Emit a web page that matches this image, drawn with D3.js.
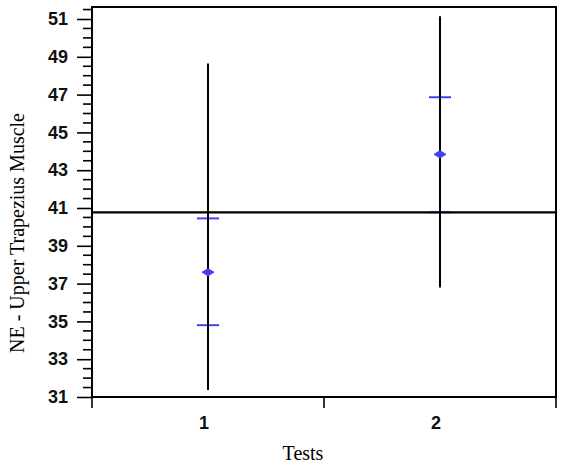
<!DOCTYPE html>
<html><head><meta charset="utf-8">
<script src="https://cdn.jsdelivr.net/npm/d3@7"></script>
<style>body{margin:0;background:#fff}</style>
</head><body>
<svg id="c" width="571" height="467"></svg>
<script>
const categories = ["1", "2"];
const means = [37.6, 43.84];
const ciUpper = [40.45, 46.86];
const ciLower = [34.8, 40.77];
const rangeMax = [48.65, 51.15];
const rangeMin = [31.37, 36.8];
const grandMean = 40.77;
const yTicks = [31, 33, 35, 37, 39, 41, 43, 45, 47, 49, 51];
const yTitle = "NE - Upper Trapezius Muscle";
const xTitle = "Tests";

const svg = d3.select("#c");
const L = 92, R = 556, T = 7, B = 397;
const x = d3.scaleBand().domain(categories).range([L, R]);
const y = d3.scaleLinear().domain([31, 51.635]).range([B, T]);

// minor ticks
const minor = d3.range(31, 51.6, 0.5).filter(v => !yTicks.includes(v));
svg.append("g").selectAll("line").data(minor).join("line")
  .attr("x1", L - 9).attr("x2", L).attr("y1", d => y(d)).attr("y2", d => y(d))
  .attr("stroke", "#000").attr("stroke-width", 1.6);

// y axis with major ticks
const yAxis = d3.axisLeft(y).tickValues(yTicks).tickSize(15).tickPadding(9).tickFormat(d3.format("d"));
const gy = svg.append("g").attr("transform", `translate(${L},0)`).call(yAxis);
gy.select(".domain").remove();
gy.selectAll(".tick line").attr("stroke", "#000").attr("stroke-width", 1.6);
gy.selectAll(".tick text").attr("font-family", "Liberation Sans, Arial, sans-serif")
  .attr("font-weight", "bold").attr("font-size", 18).attr("fill", "#111");

// x axis: boundary ticks
const bounds = [L, x("2"), R];
svg.append("g").selectAll("line").data(bounds).join("line")
  .attr("x1", d => d).attr("x2", d => d).attr("y1", B).attr("y2", B + 11)
  .attr("stroke", "#000").attr("stroke-width", 1.6);
svg.append("g").selectAll("text").data(categories).join("text")
  .attr("x", d => x(d) + x.bandwidth() / 2 - 4).attr("y", 429)
  .attr("text-anchor", "middle")
  .attr("font-family", "Liberation Sans, Arial, sans-serif")
  .attr("font-weight", "bold").attr("font-size", 18).attr("fill", "#111")
  .text(d => d);

// frame
svg.append("rect").attr("x", L).attr("y", T).attr("width", R - L).attr("height", B - T)
  .attr("fill", "none").attr("stroke", "#000").attr("stroke-width", 2);

// titles
svg.append("text").attr("x", 303).attr("y", 460).attr("text-anchor", "middle")
  .attr("font-family", "Liberation Serif, Times New Roman, serif").attr("font-size", 20)
  .text(xTitle);
svg.append("text").attr("transform", "translate(24,233) rotate(-90)").attr("text-anchor", "middle")
  .attr("font-family", "Liberation Serif, Times New Roman, serif").attr("font-size", 20)
  .text(yTitle);

const cx = d => x(d) + x.bandwidth() / 2;
const blue = "#3f3ff5";

// CI caps
const caps = [];
categories.forEach((c, i) => { caps.push({c, v: ciUpper[i]}); caps.push({c, v: ciLower[i]}); });
svg.append("g").selectAll("line").data(caps).join("line")
  .attr("x1", d => cx(d.c) - 11).attr("x2", d => cx(d.c) + 11)
  .attr("y1", d => y(d.v)).attr("y2", d => y(d.v))
  .attr("stroke", blue).attr("stroke-width", 2);

// vertical range lines
svg.append("g").selectAll("line").data(categories).join("line")
  .attr("x1", d => cx(d)).attr("x2", d => cx(d))
  .attr("y1", (d, i) => y(rangeMax[i])).attr("y2", (d, i) => y(rangeMin[i]))
  .attr("stroke", "#000").attr("stroke-width", 2);

// mean markers
svg.append("g").selectAll("path").data(categories).join("path")
  .attr("d", (d, i) => {
    const px = cx(d), py = y(means[i]);
    return `M${px - 6},${py} L${px},${py - 3.5} L${px + 6},${py} L${px},${py + 3.5} Z`;
  })
  .attr("fill", blue).attr("stroke", blue).attr("stroke-width", 1);

// grand mean line
svg.append("line").attr("x1", L).attr("x2", R).attr("y1", y(grandMean)).attr("y2", y(grandMean))
  .attr("stroke", "#000").attr("stroke-width", 2.4);
</script>
</body></html>
